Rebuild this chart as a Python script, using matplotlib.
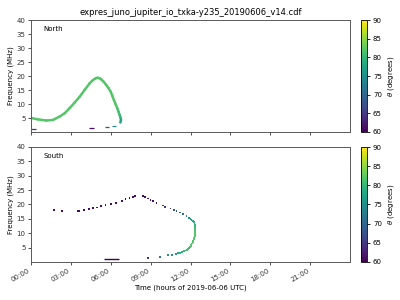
import numpy as np
import matplotlib
matplotlib.use("Agg")
import matplotlib.pyplot as plt
from matplotlib.collections import LineCollection
from matplotlib.colors import Normalize
from matplotlib.ticker import FixedLocator, FuncFormatter

# ---- data ----
title = "expres_juno_jupiter_io_txka-y235_20190606_v14.cdf"
xlabel = "Time (hours of 2019-06-06 UTC)"
ylabel = "Frequency (MHz)"
cbar_label = r"$\theta$ (degrees)"
xticks = [0, 3, 6, 9, 12, 15, 18, 21]
yticks = [5, 10, 15, 20, 25, 30, 35, 40]
cticks = [60, 65, 70, 75, 80, 85, 90]

# North: main arc (hours, MHz, theta deg)
north_t = [0.02, 0.53, 1.15, 1.65, 2.15, 2.53, 2.9, 3.28, 3.66, 4.03, 4.41, 4.6,
           4.79, 4.92, 5.04, 5.16, 5.29, 5.48, 5.66, 5.83, 6.0, 6.12, 6.24, 6.37,
           6.49, 6.58, 6.67, 6.73, 6.77, 6.72]
north_f = [5.0, 4.5, 4.1, 4.3, 5.5, 6.7, 8.5, 10.5, 12.6, 15.0, 17.4, 18.3,
           19.0, 19.3, 19.4, 19.2, 18.8, 17.9, 16.8, 15.7, 14.4, 12.9, 11.4, 9.9,
           8.5, 7.3, 6.1, 5.2, 4.3, 3.4]
north_th = [82, 82, 82, 82, 82, 82, 82, 82, 82, 82, 82, 82,
            82, 82, 82, 82, 82, 82, 82, 82, 82, 82, 82, 82,
            82, 81, 81, 80, 79, 76]
# North: low-frequency short segments (start h, end h, MHz, theta)
north_seg_t0 = [0.0, 4.4, 5.6, 6.1]
north_seg_t1 = [0.4, 4.75, 5.85, 6.4]
north_seg_f = [1.1, 1.4, 1.8, 2.2]
north_seg_th = [65, 61, 67, 74]

# South: scattered points
south_t = [1.75, 2.35, 3.56, 3.65, 4.0, 4.38, 4.68, 4.98, 5.26, 5.61, 6.0, 6.4,
           6.86, 7.1, 7.4, 7.65, 7.82, 8.4, 8.6, 8.8, 9.0, 9.2, 9.45, 9.93,
           10.1, 10.5, 10.75, 10.95, 11.2, 11.45, 11.7, 11.9, 12.0, 12.08, 12.15,
           12.2, 12.26, 12.3, 12.33, 12.35, 12.35, 12.35, 12.35, 12.35, 12.35,
           12.34, 12.33, 12.3, 12.27, 12.25, 12.2, 12.17, 12.14,
           12.08, 12.05, 12.02, 11.98, 11.95, 11.9, 11.85, 11.8, 11.75, 11.62, 11.5,
           11.35, 11.2, 11.05, 10.9, 10.6, 10.3, 9.7, 8.8]
south_f = [18.0, 17.7, 17.8, 17.8, 18.0, 18.4, 18.7, 18.9, 19.4, 19.7, 20.1, 20.4,
           21.2, 21.8, 22.3, 22.6, 23.0, 22.9, 22.5, 22.1, 21.6, 21.2, 20.4, 19.6,
           19.0, 18.6, 18.0, 17.8, 17.2, 16.7, 16.0, 15.3, 15.0, 14.6, 14.4,
           14.2, 13.8, 13.4, 12.9, 12.5, 12.0, 11.5, 11.0, 10.5, 10.0,
           9.5, 9.0, 8.6, 8.2, 7.8, 7.4, 7.0, 6.6,
           6.2, 5.9, 5.6, 5.3, 5.0, 4.8, 4.6, 4.4, 4.2, 4.0, 3.7,
           3.45, 3.2, 3.0, 2.8, 2.5, 2.3, 1.7, 1.3]
south_th = [61, 61, 61, 61, 61, 61, 61, 61, 61, 61, 61, 61,
            61, 61, 61, 61, 61, 61, 61, 61, 61, 61, 62, 64,
            65, 66, 68, 69, 70, 71, 73, 75, 75, 76, 77,
            78, 79, 79, 80, 80, 81, 81, 82, 82, 82,
            82, 82, 82, 82, 82, 82, 82, 82,
            82, 82, 82, 82, 82, 81, 81, 81, 81, 80, 80,
            79, 79, 78, 77, 76, 75, 72, 65]
# South: low-frequency bar
south_seg_t0 = [5.5]
south_seg_t1 = [6.6]
south_seg_f = [1.0]
south_seg_th = [60]

# ---- plot ----
cmap = plt.get_cmap("viridis")
norm = Normalize(60, 90)

fig = plt.figure(figsize=(4, 3), dpi=100)
ax1 = fig.add_axes([0.0775, 0.56, 0.7975, 0.373])
ax2 = fig.add_axes([0.0775, 0.127, 0.7975, 0.383])
cax1 = fig.add_axes([0.9025, 0.56, 0.016, 0.373])
cax2 = fig.add_axes([0.9025, 0.127, 0.016, 0.383])

# North
pts = np.column_stack([north_t, north_f]).reshape(-1, 1, 2)
segs = np.concatenate([pts[:-1], pts[1:]], axis=1)
th_mid = 0.5 * (np.array(north_th[:-1]) + np.array(north_th[1:]))
lc = LineCollection(segs, cmap=cmap, norm=norm, linewidths=1.8, capstyle="round",
                    joinstyle="round")
lc.set_array(th_mid)
ax1.add_collection(lc)
ax1.hlines(north_seg_f, north_seg_t0, north_seg_t1,
           colors=cmap(norm(np.array(north_seg_th))), linewidth=0.9)

# South
ax2.scatter(south_t, south_f, c=south_th, cmap=cmap, norm=norm, s=1.5, marker="s",
            linewidths=0)
ax2.hlines(south_seg_f, south_seg_t0, south_seg_t1,
           colors=cmap(norm(np.array(south_seg_th))), linewidth=1.0)

fmt = FuncFormatter(lambda v, p: "%02d:00" % int(round(v)))
for ax, lab in [(ax1, "North"), (ax2, "South")]:
    ax.set_xlim(0, 24)
    ax.set_ylim(0, 40)
    ax.xaxis.set_major_locator(FixedLocator(xticks))
    ax.yaxis.set_major_locator(FixedLocator(yticks))
    ax.tick_params(labelsize=5, length=2.5, width=0.6, colors="0.2", pad=1.5)
    ax.set_ylabel(ylabel, fontsize=5, labelpad=2)
    ax.text(0.04, 0.9, lab, transform=ax.transAxes, fontsize=5)
    for s in ax.spines.values():
        s.set_linewidth(0.7)
        s.set_color("0.35")
ax1.set_xticklabels([])
ax2.xaxis.set_major_formatter(fmt)
plt.setp(ax2.get_xticklabels(), rotation=30, ha="right")
ax2.set_xlabel(xlabel, fontsize=5, labelpad=1)
ax1.set_title(title, fontsize=6, pad=4)

sm = plt.cm.ScalarMappable(norm=norm, cmap=cmap)
for cax in (cax1, cax2):
    cb = fig.colorbar(sm, cax=cax, ticks=cticks)
    cb.ax.tick_params(labelsize=5, length=2.5, width=0.6, pad=1.5)
    cb.set_label(cbar_label, fontsize=5, labelpad=3)
    cb.outline.set_linewidth(0.6)

fig.savefig("out.png", dpi=100)
